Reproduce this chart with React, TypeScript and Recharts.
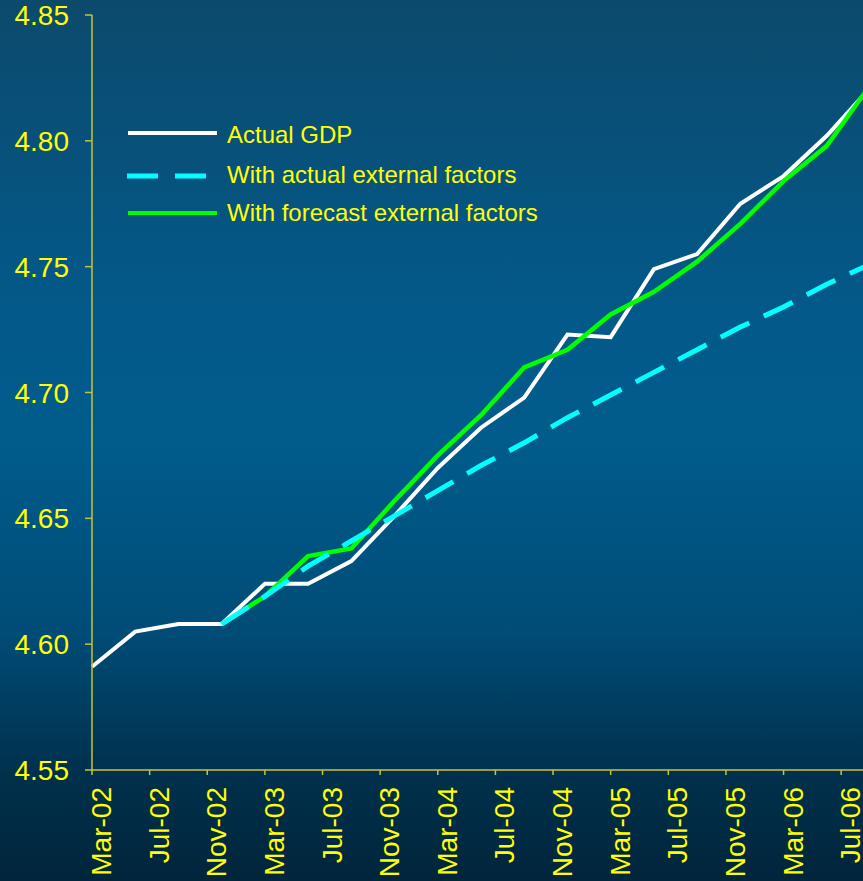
import React from 'react';
import { LineChart, Line, XAxis, YAxis } from 'recharts';

// quarterly observations, months counted from Mar-02
const quarterMonth = [0, 3, 6, 9, 12, 15, 18, 21, 24, 27, 30, 33, 36, 39, 42, 45, 48, 51, 54];

const actualGdp = [
  4.591, 4.605, 4.608, 4.608, 4.624, 4.624, 4.633, 4.651, 4.670, 4.686,
  4.698, 4.723, 4.722, 4.749, 4.755, 4.775, 4.786, 4.802, 4.821,
];

const withActualExternal = [
  null, null, null, 4.608, 4.619, 4.631, 4.641, 4.651, 4.661, 4.671,
  4.680, 4.690, 4.699, 4.708, 4.717, 4.726, 4.734, 4.743, 4.751,
];

const withForecastExternal = [
  null, null, null, 4.608, 4.619, 4.635, 4.638, 4.657, 4.675, 4.691,
  4.710, 4.717, 4.731, 4.740, 4.752, 4.767, 4.784, 4.798, 4.822,
];

const tickMonths = [0, 4, 8, 12, 16, 20, 24, 28, 32, 36, 40, 44, 48, 52];
const tickLabels = [
  'Mar-02', 'Jul-02', 'Nov-02', 'Mar-03', 'Jul-03', 'Nov-03', 'Mar-04',
  'Jul-04', 'Nov-04', 'Mar-05', 'Jul-05', 'Nov-05', 'Mar-06', 'Jul-06',
];

const yTicks = [4.55, 4.6, 4.65, 4.7, 4.75, 4.8, 4.85];

const FONT = '"Liberation Sans", Arial, sans-serif';
const YELLOW = '#ffff00';
const AXIS = '#c4c43c';

const XTick = (props: any) => {
  const { x, y, payload } = props;
  const idx = tickMonths.indexOf(payload.value);
  const tx = x + 19;
  const ty = y + 10;
  return (
    <text
      x={tx}
      y={ty}
      transform={`rotate(-90, ${tx}, ${ty})`}
      textAnchor="end"
      fill={YELLOW}
      fontSize={28}
      fontFamily={FONT}
    >
      {tickLabels[idx]}
    </text>
  );
};

const YTick = (props: any) => {
  const { x, y, payload } = props;
  return (
    <text x={x - 14} y={y + 10} textAnchor="end" fill={YELLOW} fontSize={28} fontFamily={FONT}>
      {Number(payload.value).toFixed(2)}
    </text>
  );
};

export default function App() {
  const data = quarterMonth.map((m, i) => ({
    m,
    actual: actualGdp[i],
    withActual: withActualExternal[i],
    withForecast: withForecastExternal[i],
  }));

  return (
    <div
      style={{
        position: 'fixed',
        left: 0,
        top: 0,
        width: 863,
        height: 881,
        overflow: 'hidden',
        background:
          'linear-gradient(to bottom, #0c4a6c 0%, #03598a 35%, #005c8c 50%, #004c76 72%, #00304c 88%, #01253b 100%)',
        fontFamily: FONT,
      }}
    >
      <LineChart width={870} height={881} data={data} margin={{ top: 15, right: 0, bottom: 0, left: 0 }}>
        <XAxis
          type="number"
          dataKey="m"
          domain={[0, 54]}
          ticks={tickMonths}
          interval={0}
          height={111}
          tickSize={5}
          tickMargin={2}
          stroke={AXIS}
          strokeWidth={1.5}
          tick={XTick}
        />
        <YAxis
          type="number"
          domain={[4.55, 4.85]}
          ticks={yTicks}
          interval={0}
          width={92}
          tickSize={7}
          tickMargin={2}
          stroke={AXIS}
          strokeWidth={1.5}
          tick={YTick}
        />
        <Line
          type="linear"
          dataKey="actual"
          stroke="#ffffff"
          strokeWidth={4}
          dot={false}
          isAnimationActive={false}
        />
        <Line
          type="linear"
          dataKey="withForecast"
          stroke="#00ff00"
          strokeWidth={4.5}
          dot={false}
          isAnimationActive={false}
        />
        <Line
          type="linear"
          dataKey="withActual"
          stroke="#00ffff"
          strokeWidth={5}
          strokeDasharray="32 16"
          dot={false}
          isAnimationActive={false}
        />
      </LineChart>

      <svg
        width={863}
        height={881}
        style={{ position: 'absolute', left: 0, top: 0, pointerEvents: 'none' }}
      >
        <line x1={128} y1={133} x2={217} y2={133} stroke="#ffffff" strokeWidth={4} />
        <line x1={127} y1={176} x2={206} y2={176} stroke="#00ffff" strokeWidth={5} strokeDasharray="31 17" />
        <line x1={128} y1={213} x2={217} y2={213} stroke="#00ff00" strokeWidth={4} />
        <text x={227} y={143} fill={YELLOW} fontSize={24} fontFamily={FONT}>Actual GDP</text>
        <text x={227} y={183} fill={YELLOW} fontSize={24} fontFamily={FONT}>With actual external factors</text>
        <text x={227} y={221} fill={YELLOW} fontSize={24} fontFamily={FONT}>With forecast external factors</text>
      </svg>
    </div>
  );
}
